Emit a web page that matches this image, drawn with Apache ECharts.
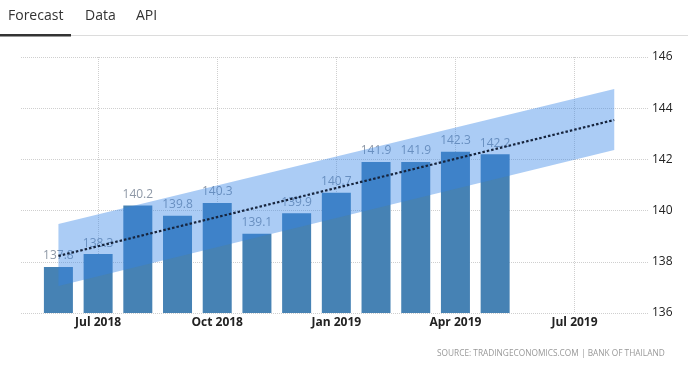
<!DOCTYPE html>
<html>
<head>
<meta charset="utf-8">
<script src="https://cdn.jsdelivr.net/npm/echarts@6/dist/echarts.min.js"></script>
<style>
html,body{margin:0;padding:0;background:#fff;}
#chart{width:688px;height:381px;}
</style>
</head>
<body>
<div id="chart"></div>
<script>
// ---- data ----
// month index: 0 = Jul 2018
var barMonths = ['Jun 2018','Jul 2018','Aug 2018','Sep 2018','Oct 2018','Nov 2018','Dec 2018','Jan 2019','Feb 2019','Mar 2019','Apr 2019','May 2019'];
var barIndex = [-1,0,1,2,3,4,5,6,7,8,9,10];
var barValues = [137.8,138.3,140.2,139.8,140.3,139.1,139.9,140.7,141.9,141.9,142.3,142.2];
var xTickLabels = ['Jul 2018','Oct 2018','Jan 2019','Apr 2019','Jul 2019'];
var yTickLabels = ['136','138','140','142','144','146'];
var forecastIndex = [-1,13];          // Jun 2018 -> Aug 2019
var forecastTrend = [138.23,143.54];
var forecastLow = [137.05,142.37];
var forecastHigh = [139.48,144.75];
var tabs = ['Forecast','Data','API'];
var sourceText = 'SOURCE: TRADINGECONOMICS.COM | BANK OF THAILAND';

var chart = echarts.init(document.getElementById('chart'));
var barData = barValues.map(function(v,i){return [barIndex[i], v];});
var trendData = forecastTrend.map(function(v,i){return [forecastIndex[i], v];});
var bandData = forecastIndex.map(function(x,i){return [x, forecastLow[i], forecastHigh[i]];});

var option = {
  backgroundColor:'#fff',
  animation:false,
  grid:{left:-21,right:40,top:57,bottom:68,outerBoundsMode:'none'},
  xAxis:{
    type:'value', min:-3, max:13.85, interval:3,
    axisLine:{show:false}, axisTick:{show:false},
    splitLine:{show:true, showMinLine:false, showMaxLine:false, lineStyle:{color:'#cfcfcf', type:[1,1]}},
    axisLabel:{
      showMinLabel:false, showMaxLabel:false,
      color:'#222', fontSize:12, fontWeight:'bold', fontFamily:'Open Sans', margin:4,
      formatter:function(v){
        var r = Math.round(v);
        if (Math.abs(v-r)>1e-6 || r%3!==0 || r<0) return '';
        return xTickLabels[r/3] || '';
      }
    }
  },
  yAxis:{
    type:'value', position:'right', min:136, max:146, interval:2,
    axisLine:{show:false}, axisTick:{show:false},
    splitLine:{show:true, lineStyle:{color:'#cfcfcf', type:[1,1]}},
    axisLabel:{color:'#222', fontSize:12, fontFamily:'Open Sans', margin:4,
      formatter:function(v){ return yTickLabels[Math.round((v-136)/2)]; }}
  },
  series:[
    {
      type:'bar', data:barData, barWidth:29, z:2,
      itemStyle:{color:'#4682b4'},
      label:{show:true, position:'top', distance:5, color:'#8e98a6', fontSize:12, fontFamily:'Open Sans',
        formatter:function(p){return p.value[1].toFixed(1);}}
    },
    {
      type:'custom', z:5, silent:true,
      data:[0],
      renderItem:function(params, api){
        var p0 = api.coord([bandData[0][0], bandData[0][2]]);
        var p1 = api.coord([bandData[1][0], bandData[1][2]]);
        var p2 = api.coord([bandData[1][0], bandData[1][1]]);
        var p3 = api.coord([bandData[0][0], bandData[0][1]]);
        return {type:'polygon', shape:{points:[p0,p1,p2,p3]}, style:{fill:'rgba(50,130,230,0.41)'}};
      }
    },
    {
      type:'line', data:trendData, z:6, symbol:'none',
      lineStyle:{color:'#16243d', width:2.2, type:[2.5,2]}
    }
  ],
  graphic:[
    {type:'rect', z:100, shape:{x:0, y:45, width:20, height:280}, style:{fill:'#fff'}},
    {type:'text', left:8, top:9, style:{text:tabs[0], fill:'#333', font:'14px "Open Sans"'}},
    {type:'text', left:85, top:9, style:{text:tabs[1], fill:'#333', font:'14px "Open Sans"'}},
    {type:'text', left:136, top:9, style:{text:tabs[2], fill:'#333', font:'14px "Open Sans"'}},
    {type:'rect', shape:{x:71, y:35, width:617, height:1}, style:{fill:'#dcdcdc'}},
    {type:'rect', shape:{x:0, y:34, width:71, height:2.5}, style:{fill:'#333'}},
    {type:'text', left:437, top:350, style:{text:sourceText, fill:'#999', font:'8.3px "Open Sans"'}}
  ]
};
chart.setOption(option);
</script>
</body>
</html>
